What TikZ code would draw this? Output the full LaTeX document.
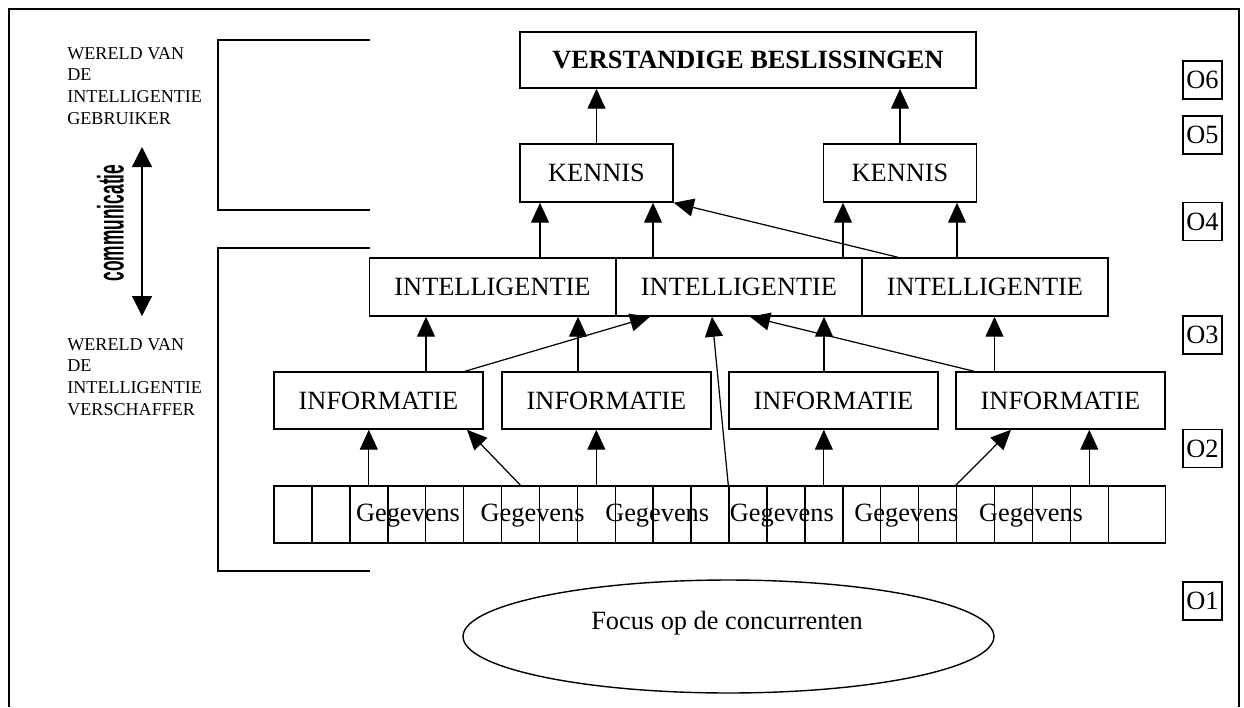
\documentclass[tikz,border=0pt]{standalone}
\usepackage{fontspec}
\setmainfont{Liberation Serif}
\setsansfont{Liberation Sans}
\usetikzlibrary{arrows.meta,shapes.geometric}

\tikzset{
  box/.style={draw, line width=0.85pt, inner sep=0pt, font=\fontsize{15}{18}\selectfont},
  cell/.style={draw, line width=0.85pt, minimum width=0.7584cm, minimum height=1.14cm, inner sep=0pt},
  side/.style={align=left, inner sep=0pt, anchor=north west, font=\fontsize{10.3}{12.3}\selectfont},
  lvl/.style={draw, line width=0.7pt, minimum width=0.78cm, minimum height=0.76cm, inner sep=0pt, font=\fontsize{15}{18}\selectfont},
  tip/.style={-{Triangle[length=0.4cm,width=0.36cm]}},
}

\begin{document}
\begin{tikzpicture}[x=0.02cm, y=-0.02cm]
  \useasboundingbox (0,0) rectangle (1244,707);

  % frame, open at the bottom
  \draw[line width=0.8pt] (9,707) -- (9,9) -- (1239,9) -- (1239,707);

  % brackets
  \draw[line width=0.8pt] (370,40) -- (218,40) -- (218,210) -- (370,210);
  \draw[line width=0.8pt] (370,248) -- (218,248) -- (218,571) -- (370,571);

  \node[side] (gebr)   at (67,47)  {WERELD VAN\\DE\\INTELLIGENTIE\\GEBRUIKER};
  \node[side] (versch) at (67,338) {WERELD VAN\\DE\\INTELLIGENTIE\\VERSCHAFFER};

  \coordinate (comtop) at (142,147);
  \coordinate (combot) at (142,316);
  \draw[line width=0.7pt, {Triangle[length=0.4cm,width=0.4cm]}-{Triangle[length=0.4cm,width=0.4cm]}] (comtop) -- (combot);
  \node[rotate=90, inner sep=0pt] (comm) at (110.5,223)
    {\scalebox{0.47}[1]{\fontsize{21}{21}\selectfont\sffamily\bfseries communicatie}};

  \begin{scope}[every node/.style={box}]
    \node[minimum width=9.12cm, minimum height=1.12cm, font=\fontsize{15}{18}\selectfont\bfseries] (verst) at (748,60) {VERSTANDIGE BESLISSINGEN};

    \node[minimum width=3.06cm, minimum height=1.16cm] (kl) at (596.5,173) {KENNIS};
    \node[minimum width=3.06cm, minimum height=1.16cm] (kr) at (900,173)   {KENNIS};

    \node[minimum width=4.92cm, minimum height=1.16cm] (int1) at (492.5,287) {INTELLIGENTIE};
    \node[minimum width=4.92cm, minimum height=1.16cm] (int2) at (739,287)   {INTELLIGENTIE};
    \node[minimum width=4.92cm, minimum height=1.16cm] (int3) at (985,287)   {INTELLIGENTIE};

    \node[minimum width=4.18cm, minimum height=1.14cm] (info1) at (378.5,400.5)  {INFORMATIE};
    \node[minimum width=4.18cm, minimum height=1.14cm] (info2) at (606.5,400.5)  {INFORMATIE};
    \node[minimum width=4.18cm, minimum height=1.14cm] (info3) at (833.5,400.5)  {INFORMATIE};
    \node[minimum width=4.18cm, minimum height=1.14cm] (info4) at (1060.5,400.5) {INFORMATIE};
  \end{scope}

  % strip of cells
  \foreach \i in {0,...,21}
    \node[cell] (c\i) at ({274+37.92*(\i+0.5)},514.5) {};
  \node[cell, minimum width=1.148cm] (c22) at (1137,514.5) {};
  \foreach \i in {0,...,5}
    \node[font=\fontsize{15}{18}\selectfont, inner sep=0pt, anchor=base] (geg\i) at ({408+124.6*\i},521.5) {Gegevens};

  \node[draw, ellipse, line width=0.8pt, minimum width=10.62cm, minimum height=2.26cm] (focus) at (728.5,636.5) {};
  \node[font=\fontsize{15}{18}\selectfont, inner sep=0pt, anchor=base] (focustxt) at (727,629) {Focus op de concurrenten};

  \foreach \n/\y in {6/80,5/135,4/221.5,3/335,2/448.5,1/601}
    \node[lvl] (o\n) at (1202.5,\y) {O\n};

  \begin{scope}[every edge/.style={draw, line width=0.7pt, tip}]
    \path (kl.north) edge (kl.north |- verst.south);
    \path (kr.north) edge (kr.north |- verst.south);

    \path (int1.north -| 540,0) edge (kl.south -| 540,0);
    \path (int2.north -| 653,0) edge (kl.south -| 653,0);
    \path (int2.north -| 843,0) edge (kr.south -| 843,0);
    \path (int3.north -| 957,0) edge (kr.south -| 957,0);
    \path (int3.north -| 898,0) edge (kl.south east);

    \path (info1.north -| 426,0) edge (int1.south -| 426,0);
    \path (info2.north -| 578,0) edge (int1.south -| 578,0);
    \path (info3.north -| 824,0) edge (int2.south -| 824,0);
    \path (info4.north -| 994.5,0) edge (int3.south -| 994.5,0);
    \path (info1.north -| 465,0) edge (int2.south -| 650,0);
    \path (info4.north -| 974,0) edge (int2.south -| 750,0);
    \path (c12.north west) edge (int2.south -| 712,0);

    \path (c2.north) edge (c2.north |- info1.south);
    \path (c6.north) edge (info1.south -| 467,0);
    \path (c8.north) edge (c8.north |- info2.south);
    \path (c14.north) edge (c14.north |- info3.south);
    \path (c18.north west) edge (info4.south -| 1011,0);
    \path (c21.north) edge (c21.north |- info4.south);
  \end{scope}

\end{tikzpicture}
\end{document}
